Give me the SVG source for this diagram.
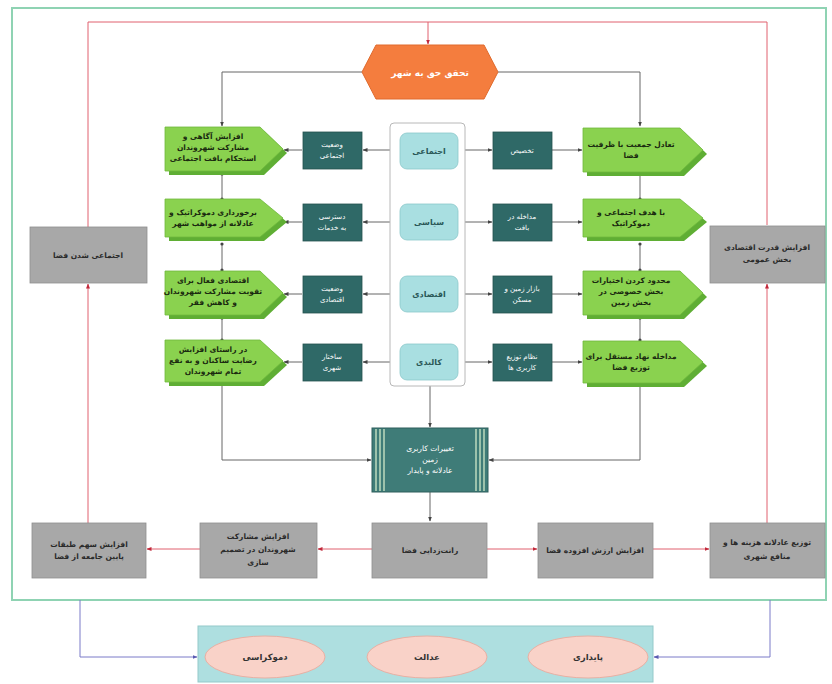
<svg xmlns="http://www.w3.org/2000/svg" width="832" height="684" viewBox="0 0 832 684">
<defs>
<marker id="ag" viewBox="0 0 10 10" refX="9" refY="5" markerWidth="5" markerHeight="5" orient="auto"><path d="M0,1 L10,5 L0,9 z" fill="#444"/></marker>
<marker id="ar" viewBox="0 0 10 10" refX="9" refY="5" markerWidth="5" markerHeight="5" orient="auto"><path d="M0,1 L10,5 L0,9 z" fill="#c0283a"/></marker>
<marker id="ab" viewBox="0 0 10 10" refX="9" refY="5" markerWidth="5" markerHeight="5" orient="auto"><path d="M0,1 L10,5 L0,9 z" fill="#5a5ab0"/></marker>
<marker id="dot" viewBox="0 0 10 10" refX="5" refY="5" markerWidth="4" markerHeight="4"><circle cx="5" cy="5" r="4" fill="#444"/></marker>
</defs>
<style>
text{font-family:"DejaVu Sans","Noto Sans",sans-serif;text-anchor:middle;}
.g{stroke:#666;stroke-width:1;fill:none;}
.r{stroke:#e0606e;stroke-width:1;fill:none;}
.b{stroke:#7a7ac8;stroke-width:1;fill:none;}
.gs{fill:#5fae34;}
.gf{fill:#8ad24f;stroke:#6eb83c;stroke-width:0.8;}
.gt{font-size:7.5px;fill:#1a2a10;font-weight:bold;}
.dk{fill:#2f6967;stroke:#24524f;stroke-width:0.8;}
.dt{font-size:7px;fill:#ffffff;}
.cy{fill:#a9dfe1;stroke:#8cc8ca;stroke-width:0.8;}
.ct{font-size:8px;fill:#2a5757;font-weight:bold;}
.gr{fill:#a8a8a8;stroke:#8e8e8e;stroke-width:0.8;}
.grt{font-size:7.5px;fill:#2a2a2a;font-weight:bold;}
.el{fill:#f9d2c8;stroke:#e8b0a4;stroke-width:1;}
.et{font-size:8.5px;fill:#333;font-weight:bold;}
</style>
<rect x="0" y="0" width="832" height="684" fill="#ffffff"/>
<rect x="12" y="8" width="814" height="592" fill="none" stroke="#8fd3b3" stroke-width="2"/>

<g id="connectors">
<!-- red feedback -->
<path class="r" d="M88,228 L88,22 L767,22 L767,225"/>
<path class="r" d="M428,22 L428,44" marker-end="url(#ar)"/>
<path class="r" d="M88,523 L88,284" marker-end="url(#ar)"/>
<path class="r" d="M767,523 L767,284" marker-end="url(#ar)"/>
<path class="r" d="M200,549 L147,549" marker-end="url(#ar)"/>
<path class="r" d="M372,549 L318,549" marker-end="url(#ar)"/>
<path class="r" d="M487,549 L537,549" marker-end="url(#ar)"/>
<path class="r" d="M653,549 L709,549" marker-end="url(#ar)"/>
<!-- hexagon to columns -->
<path class="g" d="M362,72 L222,72 L222,126" marker-end="url(#ag)"/>
<path class="g" d="M498,72 L640,72 L640,126" marker-end="url(#ag)"/>
<!-- rows -->
<path class="g" d="M398,150 L363,150" marker-end="url(#ag)"/>
<path class="g" d="M302,150 L284,150" marker-end="url(#ag)"/>
<path class="g" d="M458,150 L492,150" marker-end="url(#ag)"/>
<path class="g" d="M552,150 L582,150" marker-end="url(#ag)"/>
<path class="g" d="M398,222 L363,222" marker-end="url(#ag)"/>
<path class="g" d="M302,222 L284,222" marker-end="url(#ag)"/>
<path class="g" d="M458,222 L492,222" marker-end="url(#ag)"/>
<path class="g" d="M552,222 L582,222" marker-end="url(#ag)"/>
<path class="g" d="M398,294 L363,294" marker-end="url(#ag)"/>
<path class="g" d="M302,294 L284,294" marker-end="url(#ag)"/>
<path class="g" d="M458,294 L492,294" marker-end="url(#ag)"/>
<path class="g" d="M552,294 L582,294" marker-end="url(#ag)"/>
<path class="g" d="M398,362 L363,362" marker-end="url(#ag)"/>
<path class="g" d="M302,362 L284,362" marker-end="url(#ag)"/>
<path class="g" d="M458,362 L492,362" marker-end="url(#ag)"/>
<path class="g" d="M552,362 L582,362" marker-end="url(#ag)"/>
<!-- vertical chains -->
<path class="g" d="M222,174 L222,199" marker-start="url(#dot)" marker-end="url(#dot)"/>
<path class="g" d="M222,244 L222,270" marker-start="url(#dot)" marker-end="url(#dot)"/>
<path class="g" d="M222,318 L222,340" marker-start="url(#dot)" marker-end="url(#dot)"/>
<path class="g" d="M640,174 L640,199" marker-start="url(#dot)" marker-end="url(#dot)"/>
<path class="g" d="M640,244 L640,270" marker-start="url(#dot)" marker-end="url(#dot)"/>
<path class="g" d="M640,318 L640,340" marker-start="url(#dot)" marker-end="url(#dot)"/>
<path class="g" d="M222,386 L222,460 L371,460" marker-end="url(#ag)"/>
<path class="g" d="M640,386 L640,460 L489,460" marker-end="url(#ag)"/>
<path class="g" d="M430,386 L430,427" marker-end="url(#ag)"/>
<path class="g" d="M430,492 L430,521" marker-end="url(#ag)"/>
<!-- blue to goals -->
<path class="b" d="M80,600 L80,657 L197,657" marker-end="url(#ab)"/>
<path class="b" d="M770,600 L770,657 L654,657" marker-end="url(#ab)"/>
</g>

<g id="top">
<polygon points="362,72 376,45 484,45 498,72 484,99 376,99" fill="#f47d3e" stroke="#e06a2c" stroke-width="1"/>
<text x="430" y="76" font-size="9" fill="#ffffff" font-weight="bold">تحقق حق به شهر</text>
</g>

<g id="container"><rect x="390" y="123" width="75" height="263" rx="4" fill="#ffffff" stroke="#b8b8b8" stroke-width="1"/></g>

<g id="c1"><rect class="cy" x="400" y="133" width="58" height="36" rx="7"/><text class="ct" x="429" y="154">اجتماعی</text></g>
<g id="c2"><rect class="cy" x="400" y="204" width="58" height="36" rx="7"/><text class="ct" x="429" y="225">سیاسی</text></g>
<g id="c3"><rect class="cy" x="400" y="276" width="58" height="36" rx="7"/><text class="ct" x="429" y="297">اقتصادی</text></g>
<g id="c4"><rect class="cy" x="400" y="344" width="58" height="36" rx="7"/><text class="ct" x="429" y="365">کالبدی</text></g>

<g id="dr1"><rect class="dk" x="493" y="132" width="59" height="37"/><text class="dt" x="522" y="153">تخصیص</text></g>
<g id="dr2"><rect class="dk" x="493" y="204" width="59" height="37"/><text class="dt" x="522" y="219">مداخله در</text><text class="dt" x="522" y="230">بافت</text></g>
<g id="dr3"><rect class="dk" x="493" y="276" width="59" height="37"/><text class="dt" x="522" y="291">بازار زمین و</text><text class="dt" x="522" y="302">مسکن</text></g>
<g id="dr4"><rect class="dk" x="493" y="344" width="59" height="37"/><text class="dt" x="522" y="359">نظام توزیع</text><text class="dt" x="522" y="370">کاربری ها</text></g>

<g id="dl1"><rect class="dk" x="303" y="132" width="59" height="37"/><text class="dt" x="332" y="147">وضعیت</text><text class="dt" x="332" y="158">اجتماعی</text></g>
<g id="dl2"><rect class="dk" x="303" y="204" width="59" height="37"/><text class="dt" x="332" y="219">دسترسی</text><text class="dt" x="332" y="230">به خدمات</text></g>
<g id="dl3"><rect class="dk" x="303" y="276" width="59" height="37"/><text class="dt" x="332" y="291">وضعیت</text><text class="dt" x="332" y="302">اقتصادی</text></g>
<g id="dl4"><rect class="dk" x="303" y="344" width="59" height="37"/><text class="dt" x="332" y="359">ساختار</text><text class="dt" x="332" y="370">شهری</text></g>

<g id="gr1"><polygon class="gs" points="587,132 684,132 707,154 684,176 587,176"/><polygon class="gf" points="583,128 680,128 703,150 680,172 583,172"/><text class="gt" x="631" y="147">تعادل جمعیت با ظرفیت</text><text class="gt" x="631" y="158">فضا</text></g>
<g id="gr2"><polygon class="gs" points="587,203 684,203 707,222 684,241 587,241"/><polygon class="gf" points="583,199 680,199 703,218 680,237 583,237"/><text class="gt" x="631" y="215">با هدف اجتماعی و</text><text class="gt" x="631" y="226">دموکراتیک</text></g>
<g id="gr3"><polygon class="gs" points="587,275 684,275 707,297 684,319 587,319"/><polygon class="gf" points="583,271 680,271 703,293 680,315 583,315"/><text class="gt" x="631" y="283">محدود کردن اختیارات</text><text class="gt" x="631" y="294">بخش خصوصی در</text><text class="gt" x="631" y="305">بخش زمین</text></g>
<g id="gr4"><polygon class="gs" points="587,345 684,345 707,366 684,387 587,387"/><polygon class="gf" points="583,341 680,341 703,362 680,383 583,383"/><text class="gt" x="631" y="359">مداخله نهاد مستقل برای</text><text class="gt" x="631" y="370">توزیع فضا</text></g>

<g id="gl1"><polygon class="gs" points="169,131 264,131 287,153 264,175 169,175"/><polygon class="gf" points="165,127 260,127 283,149 260,171 165,171"/><text class="gt" x="213" y="139">افزایش آگاهی و</text><text class="gt" x="213" y="150">مشارکت شهروندان</text><text class="gt" x="213" y="161">استحکام بافت اجتماعی</text></g>
<g id="gl2"><polygon class="gs" points="169,203 264,203 287,222 264,241 169,241"/><polygon class="gf" points="165,199 260,199 283,218 260,237 165,237"/><text class="gt" x="213" y="215">برخورداری دموکراتیک و</text><text class="gt" x="213" y="226">عادلانه از مواهب شهر</text></g>
<g id="gl3"><polygon class="gs" points="169,275 264,275 287,297 264,319 169,319"/><polygon class="gf" points="165,271 260,271 283,293 260,315 165,315"/><text class="gt" x="213" y="283">اقتصادی فعال برای</text><text class="gt" x="213" y="294">تقویت مشارکت شهروندان</text><text class="gt" x="213" y="305">و کاهش فقر</text></g>
<g id="gl4"><polygon class="gs" points="169,344 264,344 287,365 264,386 169,386"/><polygon class="gf" points="165,340 260,340 283,361 260,382 165,382"/><text class="gt" x="213" y="352">در راستای افزایش</text><text class="gt" x="213" y="363">رضایت ساکنان و به نفع</text><text class="gt" x="213" y="374">تمام شهروندان</text></g>

<g id="center">
<rect x="372" y="428" width="116" height="64" fill="#3f7c78" stroke="#2f5f5c" stroke-width="1"/>
<g stroke="#cfe8c8" stroke-width="1.3"><line x1="376" y1="429" x2="376" y2="491"/><line x1="380" y1="429" x2="380" y2="491"/><line x1="384" y1="429" x2="384" y2="491"/><line x1="476" y1="429" x2="476" y2="491"/><line x1="480" y1="429" x2="480" y2="491"/><line x1="484" y1="429" x2="484" y2="491"/></g>
<text x="430" y="451" font-size="7.5" fill="#ffffff">تغییرات کاربری</text>
<text x="430" y="462" font-size="7.5" fill="#ffffff">زمین</text>
<text x="430" y="473" font-size="7.5" fill="#ffffff">عادلانه و پایدار</text>
</g>

<g id="side-left"><rect class="gr" x="30" y="227" width="117" height="56"/><text class="grt" x="88" y="258">اجتماعی شدن فضا</text></g>
<g id="side-right"><rect class="gr" x="710" y="226" width="115" height="57"/><text class="grt" x="767" y="250">افزایش قدرت اقتصادی</text><text class="grt" x="767" y="262">بخش عمومی</text></g>

<g id="b1"><rect class="gr" x="32" y="523" width="114" height="55"/><text class="grt" x="89" y="547">افزایش سهم طبقات</text><text class="grt" x="89" y="559">پایین جامعه از فضا</text></g>
<g id="b2"><rect class="gr" x="200" y="523" width="117" height="55"/><text class="grt" x="258" y="539">افزایش مشارکت</text><text class="grt" x="258" y="552">شهروندان در تصمیم</text><text class="grt" x="258" y="565">سازی</text></g>
<g id="b3"><rect class="gr" x="372" y="523" width="115" height="55"/><text class="grt" x="430" y="553">رانت‌زدایی فضا</text></g>
<g id="b4"><rect class="gr" x="538" y="523" width="115" height="55"/><text class="grt" x="595" y="553">افزایش ارزش افزوده فضا</text></g>
<g id="b5"><rect class="gr" x="710" y="523" width="115" height="55"/><text class="grt" x="767" y="545">توزیع عادلانه هزینه ها و</text><text class="grt" x="767" y="559">منافع شهری</text></g>

<g id="goals">
<rect x="198" y="626" width="455" height="56" fill="#aedfe0" stroke="#94c9ca" stroke-width="1"/>
<ellipse class="el" cx="265" cy="657" rx="60" ry="21"/><text class="et" x="265" y="660">دموکراسی</text>
<ellipse class="el" cx="427" cy="657" rx="60" ry="21"/><text class="et" x="427" y="660">عدالت</text>
<ellipse class="el" cx="588" cy="657" rx="60" ry="21"/><text class="et" x="588" y="660">پایداری</text>
</g>
</svg>
